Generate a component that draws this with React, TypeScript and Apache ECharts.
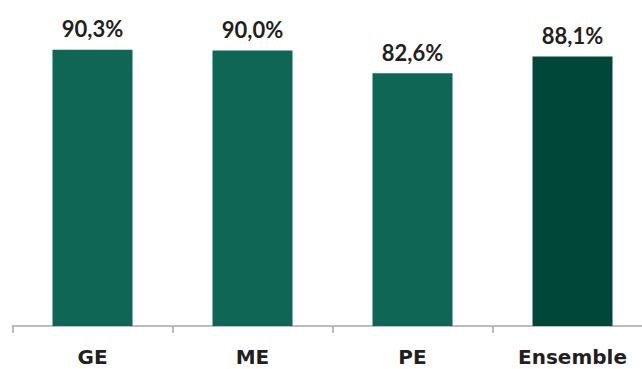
import React, { useEffect, useRef } from "react";
import * as echarts from "echarts";

const categories = ["GE", "ME", "PE", "Ensemble"];
const values = [90.3, 90.0, 82.6, 88.1];
const barColors = ["#0f6655", "#0f6655", "#0f6655", "#00473a"];

export default function App() {
  const ref = useRef<HTMLDivElement>(null);
  useEffect(() => {
    const chart = echarts.init(ref.current!, null, { renderer: "svg" });
    chart.setOption({
      animation: false,
      grid: { left: 12.5, top: 20, width: 640, height: 306, containLabel: false, outerBoundsMode: "none" },
      xAxis: {
        type: "category",
        data: categories,
        axisLine: { lineStyle: { color: "#a6a6a6", width: 1.5 } },
        axisTick: { show: true, length: 7, lineStyle: { color: "#a6a6a6", width: 1.5 } },
        axisLabel: {
          margin: 21,
          fontSize: 20,
          lineHeight: 20,
          fontWeight: "bold",
          color: "#231f20",
          fontFamily: "'DejaVu Sans', sans-serif",
        },
      },
      yAxis: {
        type: "value",
        min: 0,
        max: 100,
        show: false,
        splitLine: { show: false },
      },
      series: [
        {
          type: "bar",
          barWidth: 80,
          data: values.map((v, i) => ({ value: v, itemStyle: { color: barColors[i] } })),
          label: {
            show: true,
            position: "top",
            distance: 10,
            fontSize: 22,
            fontWeight: "bold",
            color: "#231f20",
            fontFamily: "Lato, 'DejaVu Sans', sans-serif",
            formatter: (p: any) => p.value.toFixed(1).replace(".", ",") + "%",
          },
        },
      ],
    });
    return () => chart.dispose();
  }, []);
  return <div ref={ref} style={{ width: 642, height: 369, position: "absolute", left: 0, top: 0 }} />;
}
